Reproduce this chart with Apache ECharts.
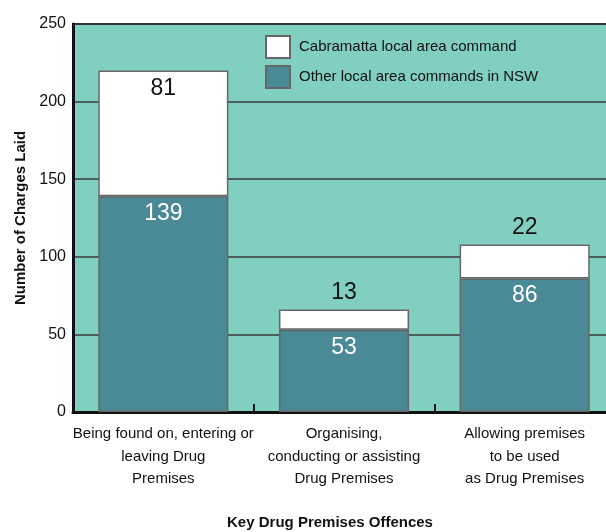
<!DOCTYPE html>
<html><head><meta charset="utf-8">
<script src="https://cdn.jsdelivr.net/npm/echarts@6/dist/echarts.min.js"></script>
<style>html,body{margin:0;padding:0;background:#fff}#c{width:606px;height:532px}</style>
</head><body><div id="c"></div>
<script>
const categories = ["Being found on, entering or\nleaving Drug\nPremises", "Organising,\nconducting or assisting\nDrug Premises", "Allowing premises\nto be used\nas Drug Premises"];
const otherNSW = [139, 53, 86];
const cabramatta = [81, 13, 22];
const seriesNames = ["Other local area commands in NSW", "Cabramatta local area command"];
const yTicks = [0, 50, 100, 150, 200, 250];
const FONT = '"Liberation Sans Narrow", "Liberation Sans", Arial, sans-serif';

// Small segments get their label above the bar (as in the reference)
const cabData = cabramatta.map(v => ({
  value: v,
  label: v < 40 ? {position: 'top', distance: 5} : {position: 'insideTop', distance: 7}
}));

const chart = echarts.init(document.getElementById('c'), null, {renderer: 'canvas'});
chart.setOption({
  animation: false,
  textStyle: {fontFamily: FONT},
  grid: {left: 73, top: 24, width: 542, height: 388, show: true, backgroundColor: '#80CFC1', borderColor: '#222', borderWidth: 2, outerBoundsMode: 'none', containLabel: false},
  legend: {
    data: [seriesNames[1], seriesNames[0]],
    orient: 'vertical', left: 265, top: 35, padding: 0, itemWidth: 24, itemHeight: 22, itemGap: 6, icon: 'rect',
    textStyle: {fontFamily: FONT, fontSize: 15, color: '#111', padding: [0, 0, 0, 4]}
  },
  xAxis: {
    type: 'category', data: categories,
    name: 'Key Drug Premises Offences', nameLocation: 'middle', nameGap: 103,
    nameTextStyle: {fontFamily: FONT, fontWeight: 'bold', fontSize: 15, color: '#111', padding: [0, 28, 0, 0]},
    axisLine: {lineStyle: {color: '#111', width: 3}},
    axisTick: {show: true, inside: true, length: 8, lineStyle: {color: '#111', width: 2}},
    axisLabel: {fontFamily: FONT, fontSize: 15, color: '#111', lineHeight: 22.5, margin: 11, interval: 0}
  },
  yAxis: {
    type: 'value', min: yTicks[0], max: yTicks[yTicks.length-1], interval: 50,
    name: 'Number of Charges Laid', nameLocation: 'middle', nameGap: 44,
    nameTextStyle: {fontFamily: FONT, fontWeight: 'bold', fontSize: 15, color: '#111'},
    axisLine: {show: true, lineStyle: {color: '#111', width: 3}},
    axisTick: {show: false},
    axisLabel: {fontFamily: FONT, fontSize: 16, color: '#111', margin: 7},
    splitLine: {show: true, lineStyle: {color: '#3a3a3a', width: 1.5}}
  },
  series: [
    {name: seriesNames[0], type: 'bar', stack: 's', data: otherNSW, barWidth: '72%',
     itemStyle: {color: '#4A8A96', borderColor: '#666', borderWidth: 1.5},
     label: {show: true, position: 'insideTop', distance: 6, color: '#fff', fontSize: 23, fontFamily: FONT}},
    {name: seriesNames[1], type: 'bar', stack: 's', data: cabData, barWidth: '72%',
     itemStyle: {color: '#ffffff', borderColor: '#666', borderWidth: 1.5},
     label: {show: true, color: '#111', fontSize: 23, fontFamily: FONT}}
  ]
});
</script></body></html>
